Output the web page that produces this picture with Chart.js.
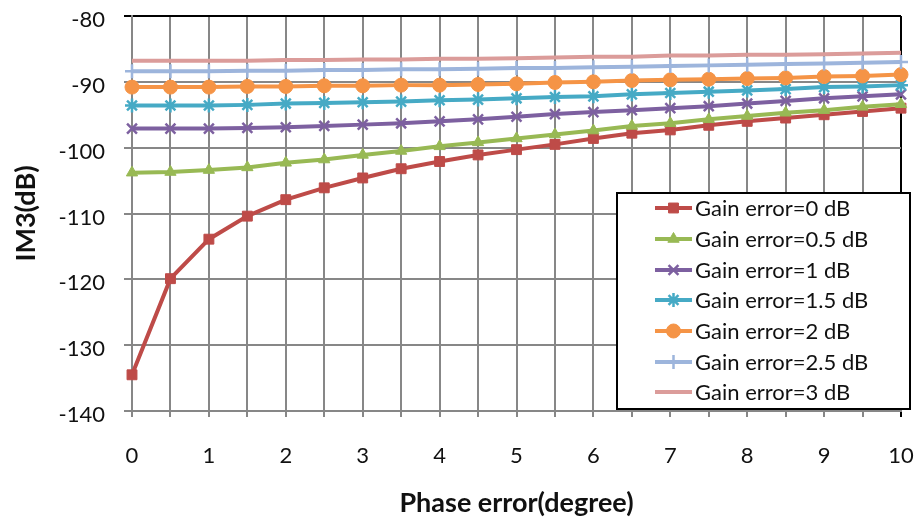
<!DOCTYPE html>
<html>
<head>
<meta charset="utf-8">
<script src="https://cdn.jsdelivr.net/npm/chart.js@4/dist/chart.umd.min.js"></script>
<style>
  html, body { margin: 0; padding: 0; background: #fff; }
  #wrap { width: 919px; height: 523px; position: relative; }
</style>
</head>
<body>
<div id="wrap"><canvas id="im3Chart"></canvas></div>
<script>
// Data
const phaseError = [0, 0.5, 1, 1.5, 2, 2.5, 3, 3.5, 4, 4.5, 5, 5.5, 6, 6.5, 7, 7.5, 8, 8.5, 9, 9.5, 10];
const seriesLabels = ['Gain error=0 dB', 'Gain error=0.5 dB', 'Gain error=1 dB', 'Gain error=1.5 dB',
                      'Gain error=2 dB', 'Gain error=2.5 dB', 'Gain error=3 dB'];
const gain0   = [-134.5, -119.9, -113.9, -110.4, -107.9, -106.1, -104.6, -103.2, -102.1, -101.1, -100.3, -99.5, -98.6, -97.8, -97.3, -96.6, -96.0, -95.5, -95.0, -94.5, -94.0];
const gain05  = [-103.8, -103.7, -103.4, -103.0, -102.3, -101.8, -101.1, -100.5, -99.8, -99.2, -98.6, -98.0, -97.4, -96.7, -96.3, -95.7, -95.2, -94.7, -94.3, -93.8, -93.4];
const gain1   = [-97.1, -97.1, -97.1, -97.0, -96.9, -96.7, -96.5, -96.3, -96.0, -95.7, -95.3, -94.9, -94.6, -94.3, -94.0, -93.7, -93.3, -92.9, -92.5, -92.2, -91.9];
const gain15  = [-93.6, -93.6, -93.6, -93.5, -93.3, -93.2, -93.1, -93.0, -92.8, -92.7, -92.5, -92.3, -92.2, -91.9, -91.7, -91.5, -91.3, -91.1, -90.8, -90.7, -90.5];
const gain2   = [-90.8, -90.8, -90.8, -90.7, -90.7, -90.6, -90.6, -90.5, -90.5, -90.4, -90.3, -90.1, -90.0, -89.8, -89.7, -89.6, -89.5, -89.4, -89.2, -89.1, -88.9];
const gain25  = [-88.4, -88.4, -88.4, -88.3, -88.3, -88.2, -88.2, -88.1, -88.1, -88.0, -87.9, -87.9, -87.8, -87.7, -87.6, -87.5, -87.4, -87.3, -87.2, -87.1, -87.0];
const gain3   = [-86.8, -86.8, -86.8, -86.8, -86.7, -86.7, -86.6, -86.6, -86.5, -86.5, -86.4, -86.3, -86.2, -86.2, -86.0, -86.0, -85.9, -85.9, -85.8, -85.7, -85.6];
const yTicks = [-140, -130, -120, -110, -100, -90, -80];
const xTicks = [0, 1, 2, 3, 4, 5, 6, 7, 8, 9, 10];

const allSeries = [gain0, gain05, gain1, gain15, gain2, gain25, gain3];
const colors = ['#BE4B48', '#98B954', '#7D60A0', '#46AAC5', '#F59446', '#9DB5DC', '#DB9C9A'];
const markers = ['rect', 'triangle', 'crossRot', 'star', 'circle', 'cross', false];
const markerSizes = [7, 6.5, 7, 7, 7, 7, 0];

const FONT = 'Lato, "Open Sans", sans-serif';

const datasets = allSeries.map((vals, i) => ({
    label: seriesLabels[i],
    data: vals.map((v, k) => ({ x: phaseError[k], y: v })),
    borderColor: colors[i],
    backgroundColor: colors[i],
    borderWidth: 4,
    pointStyle: markers[i],
    pointRadius: markerSizes[i],
    pointBorderWidth: (i === 2 || i === 3 || i === 5) ? 2.5 : 1,
    pointBorderColor: colors[i],
    pointBackgroundColor: colors[i],
    tension: 0,
    clip: false,
    order: 7 - i
}));

// no extra room for the edge labels, the plot area is fixed
function noEdgePadding(s) {
    s.paddingLeft = 0;
    s.paddingRight = 0;
    s.paddingTop = 0;
    s.paddingBottom = 0;
}

// legend drawn inside the plot area, bottom right
const insideLegend = {
    id: 'insideLegend',
    afterDraw(chart) {
        const ctx = chart.ctx;
        const box = { l: 617, t: 193, r: 910, b: 409 };
        ctx.save();
        ctx.fillStyle = '#fff';
        ctx.fillRect(box.l, box.t, box.r - box.l, box.b - box.t);
        ctx.strokeStyle = '#000';
        ctx.lineWidth = 2;
        ctx.strokeRect(box.l, box.t, box.r - box.l, box.b - box.t);
        const rowY = [208, 239, 270, 300, 331, 362, 392];
        ctx.font = '22px ' + FONT;
        ctx.textBaseline = 'middle';
        ctx.textAlign = 'left';
        chart.data.datasets.forEach((ds, i) => {
            const y = rowY[i];
            ctx.strokeStyle = ds.borderColor;
            ctx.lineWidth = 4;
            ctx.beginPath();
            ctx.moveTo(655, y);
            ctx.lineTo(692, y);
            ctx.stroke();
            if (ds.pointStyle) {
                ctx.fillStyle = ds.backgroundColor;
                ctx.strokeStyle = ds.borderColor;
                ctx.lineWidth = ds.pointBorderWidth;
                Chart.helpers.drawPoint(ctx, {
                    pointStyle: ds.pointStyle,
                    radius: ds.pointRadius,
                    rotation: 0,
                    borderWidth: ds.pointBorderWidth
                }, 673.5, y);
            }
            ctx.fillStyle = '#111';
            ctx.fillText(ds.label, 695, y + 1);
        });
        ctx.restore();
    }
};

new Chart(document.getElementById('im3Chart'), {
    type: 'line',
    data: { datasets: datasets },
    plugins: [insideLegend],
    options: {
        responsive: true,
        maintainAspectRatio: false,
        animation: false,
        layout: { padding: { left: 0, top: 16, right: 18, bottom: 0 } },
        plugins: {
            legend: { display: false },
            tooltip: { enabled: false }
        },
        scales: {
            x: {
                type: 'linear',
                min: 0,
                max: 10,
                afterFit: s => { s.height = 112; noEdgePadding(s); },
                afterBuildTicks: s => { s.ticks = phaseError.map(v => ({ value: v })); },
                grid: {
                    color: c => (c.tick && c.tick.value === 10) ? '#000' : '#878787',
                    lineWidth: 2,
                    tickLength: 6
                },
                border: { color: '#878787', width: 2 },
                ticks: {
                    color: '#111',
                    padding: 26,
                    maxRotation: 0,
                    autoSkip: false,
                    font: { family: FONT, size: 22 },
                    callback: v => xTicks.includes(v) ? String(v) : ''
                },
                title: {
                    display: true,
                    text: 'Phase error(degree)',
                    color: '#111',
                    font: { family: FONT, size: 27, weight: 'bold' },
                    padding: { top: 0, bottom: 4 }
                }
            },
            y: {
                min: -140,
                max: -80,
                afterFit: s => { s.width = 132; noEdgePadding(s); },
                afterBuildTicks: s => { s.ticks = yTicks.map(v => ({ value: v })); },
                grid: {
                    color: c => (c.tick && c.tick.value === -80) ? '#000' : '#878787',
                    lineWidth: 2,
                    tickLength: 8
                },
                border: { color: '#878787', width: 2 },
                ticks: {
                    color: '#111',
                    padding: 19,
                    labelOffset: 4,
                    font: { family: FONT, size: 22 }
                },
                title: {
                    display: true,
                    text: 'IM3(dB)',
                    color: '#111',
                    font: { family: FONT, size: 27, weight: 'bold' },
                    padding: { top: 10, bottom: 0 }
                }
            }
        }
    }
});
</script>
</body>
</html>
